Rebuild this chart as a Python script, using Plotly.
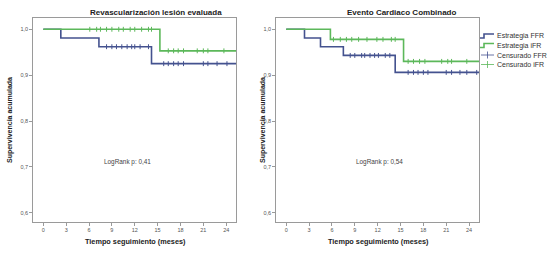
import plotly.graph_objects as go

# ---------------- data ----------------
x_ticks = [0, 3, 6, 9, 12, 15, 18, 21, 24]
y_ticks = [0.6, 0.7, 0.8, 0.9, 1.0]
y_tick_labels = ["0,6", "0,7", "0,8", "0,9", "1,0"]
END_TIME = 25.3

# Left panel: Revascularización lesión evaluada
left_ffr_times = [0, 2.3, 7.3, 14.2]
left_ffr_surv = [1.0, 0.981, 0.962, 0.925]
left_ifr_times = [0, 15.3]
left_ifr_surv = [1.0, 0.953]
left_ffr_censor = [8.3, 9.0, 9.6, 10.3, 11.0, 11.6, 12.0, 12.7, 13.8,
                   15.8, 16.4, 17.1, 17.7, 18.4, 21.0, 21.6, 22.8, 24.1]
left_ifr_censor = [6.1, 7.0, 7.5, 8.3, 9.0, 9.9, 10.5, 11.4, 12.0, 12.9, 13.8, 14.2,
                   16.4, 17.1, 17.7, 18.4, 20.2, 21.0, 21.6, 23.7]

# Right panel: Evento Cardiaco Combinado
right_ffr_times = [0, 2.4, 4.5, 7.5, 14.3]
right_ffr_surv = [1.0, 0.981, 0.962, 0.943, 0.906]
right_ifr_times = [0, 5.8, 15.4]
right_ifr_surv = [1.0, 0.978, 0.930]
right_ffr_censor = [8.4, 9.0, 9.9, 10.3, 11.0, 11.6, 12.1, 13.0, 13.6,
                    16.0, 16.7, 17.3, 18.0, 18.6, 21.0, 21.7, 22.8, 23.7, 25.0]
right_ifr_censor = [6.2, 7.1, 7.9, 8.6, 9.5, 10.6, 11.9, 12.7, 13.8, 14.3,
                    16.0, 16.7, 17.5, 18.2, 20.4, 21.2, 21.7, 23.7]

titles = ["Revascularización lesión evaluada", "Evento Cardiaco Combinado"]
logrank = ["LogRank p: 0,41", "LogRank p: 0,54"]
legend_labels = ["Estrategia FFR", "Estrategia iFR", "Censurado FFR", "Censurado iFR"]

BLUE = "#44528f"
GREEN = "#5cb85a"
FRAME = "#9a9a9a"
FONT = "Liberation Sans"
W, H = 560, 256


def step_xy(times, surv):
    return list(times) + [END_TIME], list(surv) + [surv[-1]]


def surv_at(times, surv, t):
    s = surv[0]
    for ti, si in zip(times, surv):
        if t >= ti:
            s = si
    return s


fig = go.Figure()

panels = [
    (left_ffr_times, left_ffr_surv, left_ifr_times, left_ifr_surv, left_ffr_censor, left_ifr_censor, "x", "y"),
    (right_ffr_times, right_ffr_surv, right_ifr_times, right_ifr_surv, right_ffr_censor, right_ifr_censor, "x2", "y2"),
]

for (ft, fs, it, isv, fc, ic, xa, ya) in panels:
    for times, surv, cens, col in [(ft, fs, fc, BLUE), (it, isv, ic, GREEN)]:
        sx, sy = step_xy(times, surv)
        fig.add_trace(go.Scatter(x=sx, y=sy, mode="lines", line=dict(color=col, width=1.6, shape="hv"),
                                 xaxis=xa, yaxis=ya, showlegend=False, hoverinfo="skip"))
        fig.add_trace(go.Scatter(x=cens, y=[surv_at(times, surv, t) for t in cens], mode="markers",
                                 marker=dict(symbol="line-ns", size=3.5, line=dict(color=col, width=1)),
                                 xaxis=xa, yaxis=ya, showlegend=False, hoverinfo="skip"))


def px(x):
    return x / W


def py(y):
    return 1 - y / H


YDOM = [py(221.7), py(18)]
XR = [-1.3, 25.3]
YR = [0.5804, 1.0246]

axis_common = dict(showline=True, mirror=True, linecolor=FRAME, linewidth=1.2, ticks="outside", ticklen=3,
                   tickcolor=FRAME, tickwidth=1, showgrid=False, zeroline=False,
                   tickfont=dict(family=FONT, size=5.5, color="#555555"), fixedrange=True)

fig.update_layout(
    width=W, height=H, margin=dict(l=0, r=0, t=0, b=0),
    paper_bgcolor="white", plot_bgcolor="white",
    xaxis=dict(domain=[px(33.4), px(236.1)], range=XR, tickvals=x_ticks, anchor="y", **axis_common),
    yaxis=dict(domain=YDOM, range=YR, tickvals=y_ticks, ticktext=y_tick_labels, anchor="x", **axis_common),
    xaxis2=dict(domain=[px(276.3), px(479)], range=XR, tickvals=x_ticks, anchor="y2", **axis_common),
    yaxis2=dict(domain=YDOM, range=YR, tickvals=y_ticks, ticktext=y_tick_labels, anchor="x2", **axis_common),
)

ann = []
def add_text(text, x, y, size, bold=False, angle=0, color="#222222", xanchor="center"):
    ann.append(dict(text=f"<b>{text}</b>" if bold else text, x=px(x), y=py(y), xref="paper", yref="paper",
                    showarrow=False, xanchor=xanchor, yanchor="middle", textangle=angle,
                    font=dict(family=FONT, size=size, color=color)))

add_text(titles[0], 156, 12.8, 8, bold=True)
add_text(titles[1], 401.5, 12.8, 8, bold=True)
for cx in (10, 263):
    add_text("Supervivencia acumulada", cx, 120, 7, bold=True, angle=-90)
for cx in (135, 378):
    add_text("Tiempo seguimiento (meses)", cx, 241, 7.3, bold=True)
add_text(logrank[0], 127.5, 161.7, 6.4, color="#444444")
add_text(logrank[1], 379.7, 161.7, 6.4, color="#444444")

# custom compact legend
leg_y = [36, 45.5, 55, 64.5]
leg_cols = [BLUE, GREEN, BLUE, GREEN]
for i, (lab, yy, col) in enumerate(zip(legend_labels, leg_y, leg_cols)):
    add_text(lab, 494.5, yy, 7, color="#333333", xanchor="left")

shapes = []
for i in range(2):
    yy = leg_y[i]
    path = (f"M {px(480)},{py(yy + 2)} L {px(484)},{py(yy + 2)} L {px(484)},{py(yy - 2)} "
            f"L {px(494)},{py(yy - 2)}")
    shapes.append(dict(type="path", path=path, xref="paper", yref="paper",
                       line=dict(color=leg_cols[i], width=1.6)))
for i in range(2, 4):
    yy = leg_y[i]
    shapes.append(dict(type="line", xref="paper", yref="paper", x0=px(481), x1=px(494), y0=py(yy), y1=py(yy),
                       line=dict(color=leg_cols[i], width=0.8)))
    shapes.append(dict(type="line", xref="paper", yref="paper", x0=px(487.5), x1=px(487.5),
                       y0=py(yy - 3.5), y1=py(yy + 3.5), line=dict(color=leg_cols[i], width=0.8)))

fig.update_layout(annotations=ann, shapes=shapes)
fig.write_html("out.html", config={"displayModeBar": False},
               post_script="document.body.style.margin='0px';document.body.style.overflow='hidden';")
